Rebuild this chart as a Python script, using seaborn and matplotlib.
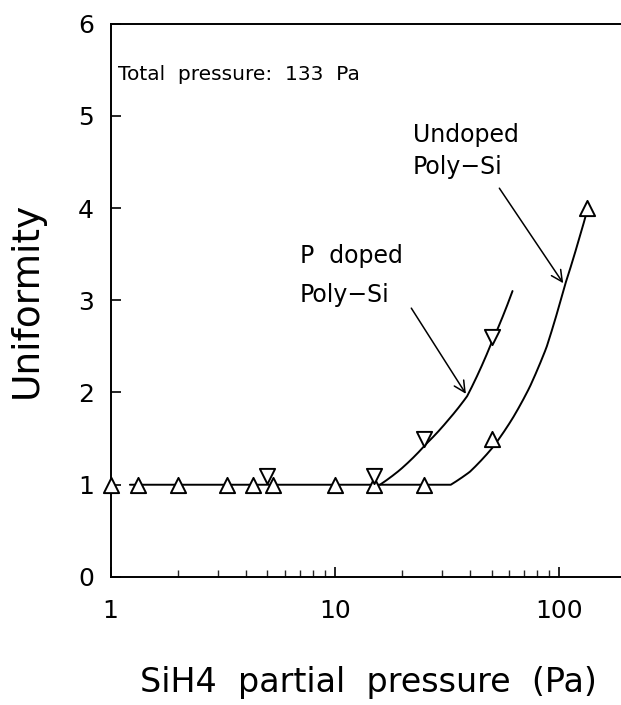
import numpy as np
import pandas as pd
import matplotlib
matplotlib.use("Agg")
import matplotlib.pyplot as plt
import seaborn as sns
from matplotlib.ticker import FixedLocator, LogLocator, NullFormatter

# ---- data ----
undoped_x = [1.0, 1.33, 2.0, 3.3, 4.3, 5.3, 10.0, 15.0, 25.0, 50.0, 133.0]
undoped_y = [1.0, 1.0, 1.0, 1.0, 1.0, 1.0, 1.0, 1.0, 1.0, 1.5, 4.0]
pdoped_x = [5.0, 15.0, 25.0, 50.0]
pdoped_y = [1.1, 1.1, 1.5, 2.6]

# fitted curves
undoped_curve_x = [1.22, 32.9, 40.0, 50.8, 62.4, 74.0, 87.9, 106.0, 119.6, 133.3]
undoped_curve_y = [1.0, 1.0, 1.14, 1.41, 1.73, 2.06, 2.49, 3.16, 3.57, 3.97]
pdoped_curve_x = [15.9, 19.5, 25.6, 32.0, 38.9, 50.0, 62.0]
pdoped_curve_y = [1.0, 1.16, 1.445, 1.70, 1.96, 2.54, 3.10]

y_ticks = [0, 1, 2, 3, 4, 5, 6]
x_ticks = [1, 10, 100]
x_tick_labels = ["1", "10", "100"]

sns.set_theme(style="ticks")
plt.rcParams["font.family"] = ["DejaVu Sans"]
plt.rcParams["text.color"] = "black"
plt.rcParams["axes.labelcolor"] = "black"


def trace(xs, ys, n=300):
    # render the traced curve finely (linear in x between traced points)
    xd = np.linspace(xs[0], xs[-1], n)
    xd = np.unique(np.concatenate([xd, xs]))
    return pd.DataFrame({"x": xd, "y": np.interp(xd, xs, ys)})


fig = plt.figure(figsize=(6.21, 7.05), dpi=100)
ax = fig.add_axes([0.178, 0.1816, 0.831, 0.785])

lc = "black"
und = trace(undoped_curve_x, undoped_curve_y)
pdo = trace(pdoped_curve_x, pdoped_curve_y)
sns.lineplot(data=und, x="x", y="y", ax=ax, color=lc, lw=1.4,
             sort=False, estimator=None)
sns.lineplot(data=pdo, x="x", y="y", ax=ax, color=lc, lw=1.4,
             sort=False, estimator=None)
sns.scatterplot(x=undoped_x, y=undoped_y, ax=ax, marker="^", s=120,
                facecolor="white", edgecolor="black", linewidth=1.4,
                zorder=5, clip_on=False)
sns.scatterplot(x=pdoped_x, y=pdoped_y, ax=ax, marker="v", s=120,
                facecolor="white", edgecolor="black", linewidth=1.4,
                zorder=5, clip_on=False)

ax.set_xscale("log")
ax.set_xlim(1, 200)
ax.set_ylim(0, 6)
ax.xaxis.set_major_locator(FixedLocator(x_ticks))
ax.set_xticklabels(x_tick_labels)
ax.xaxis.set_minor_locator(LogLocator(base=10, subs=np.arange(2, 10)))
ax.xaxis.set_minor_formatter(NullFormatter())
ax.set_yticks(y_ticks)

for s in ax.spines.values():
    s.set_linewidth(1.4)
    s.set_color("black")
ax.tick_params(axis="both", which="major", direction="in", length=7, width=1.2,
               labelsize=18, pad=12, colors="black")
ax.tick_params(axis="x", which="minor", direction="in", length=5, width=1.0)
ax.tick_params(axis="x", which="major", pad=16)

ax.set_xlabel("SiH4  partial  pressure  (Pa)", fontsize=24, labelpad=31)
ax.set_ylabel("Uniformity", fontsize=27, labelpad=24)

ax.text(1.08, 5.45, "Total  pressure:  133  Pa", fontsize=14.5, va="center", ha="left")
ax.text(22.3, 4.62, "Undoped\nPoly−Si", fontsize=17, va="center", ha="left",
        linespacing=1.4)
ax.text(7.0, 3.27, "P  doped\nPoly−Si", fontsize=17, va="center", ha="left",
        linespacing=1.8)

ax.annotate("", xy=(106, 3.16), xytext=(53.3, 4.24),
            arrowprops=dict(arrowstyle="->", color="black", lw=1.1,
                            mutation_scale=20))
ax.annotate("", xy=(39.0, 1.96), xytext=(21.6, 2.94),
            arrowprops=dict(arrowstyle="->", color="black", lw=1.1,
                            mutation_scale=20))

fig.savefig("out.png", dpi=100)
